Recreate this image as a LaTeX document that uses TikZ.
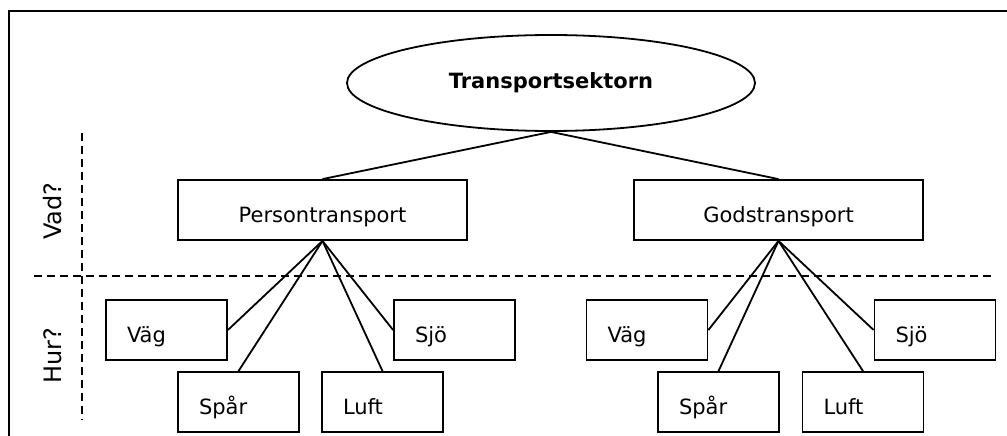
\documentclass[tikz,border=0pt]{standalone}
\usepackage{fontspec}
\setmainfont{DejaVu Sans}
\usetikzlibrary{shapes.geometric}

\begin{document}
\begin{tikzpicture}[x=1pt,y=-1pt,line width=1.8pt,
  sector/.style={draw,ellipse,minimum width=408pt,minimum height=96pt,inner sep=0pt,font=\fontsize{21}{25}\selectfont\bfseries},
  kind/.style={draw,rectangle,minimum width=289pt,minimum height=60pt,inner sep=0pt,text height=25pt,text depth=0pt,font=\fontsize{21}{25}\selectfont},
  mode/.style={draw,rectangle,text width=79pt,inner xsep=21pt,inner ysep=0pt,minimum height=60pt,align=left,text height=25pt,text depth=0pt,font=\fontsize{21}{25}\selectfont},
  side/.style={rotate=90,font=\fontsize{24}{28}\selectfont},
  divider/.style={dash pattern=on 8pt off 5pt}]
\useasboundingbox (0,0) rectangle (1007,436);
\draw (9,436) -- (9,11) -- (1007,11);

  \node[sector] (T) at (551,83)    {Transportsektorn};
  \node[kind]   (P) at (322.5,210) {Persontransport};
  \node[kind]   (G) at (778.5,210) {Godstransport};

  \node[mode] (PV) at (166.5,330) {Väg};
  \node[mode] (PS) at (238.5,402) {Spår};
  \node[mode] (PL) at (382.5,402) {Luft};
  \node[mode] (PJ) at (454.5,330) {Sjö};

  \node[mode] (GV) at (647,330)   {Väg};
  \node[mode] (GS) at (718.5,402) {Spår};
  \node[mode] (GL) at (863,402)   {Luft};
  \node[mode] (GJ) at (935,330)   {Sjö};

  \node[side] (Vad) at (53,211) {Vad?};
  \node[side] (Hur) at (53,356) {Hur?};

  \coordinate (H1) at (34,276);
  \coordinate (H2) at (993,276);
  \coordinate (V1) at (82,133);
  \coordinate (V2) at (82,420);

  \path[draw]
        (T.south) edge (P.north)
        (T.south) edge (G.north)
        (P.south) edge (PV.east)
        (P.south) edge (PS.north)
        (P.south) edge (PL.north)
        (P.south) edge (PJ.west)
        (G.south) edge (GV.east)
        (G.south) edge (GS.north)
        (G.south) edge (GL.north)
        (G.south) edge (GJ.west);

  \path[draw,divider]
        (H1) edge (H2)
        (V1) edge (V2);
\end{tikzpicture}
\end{document}
